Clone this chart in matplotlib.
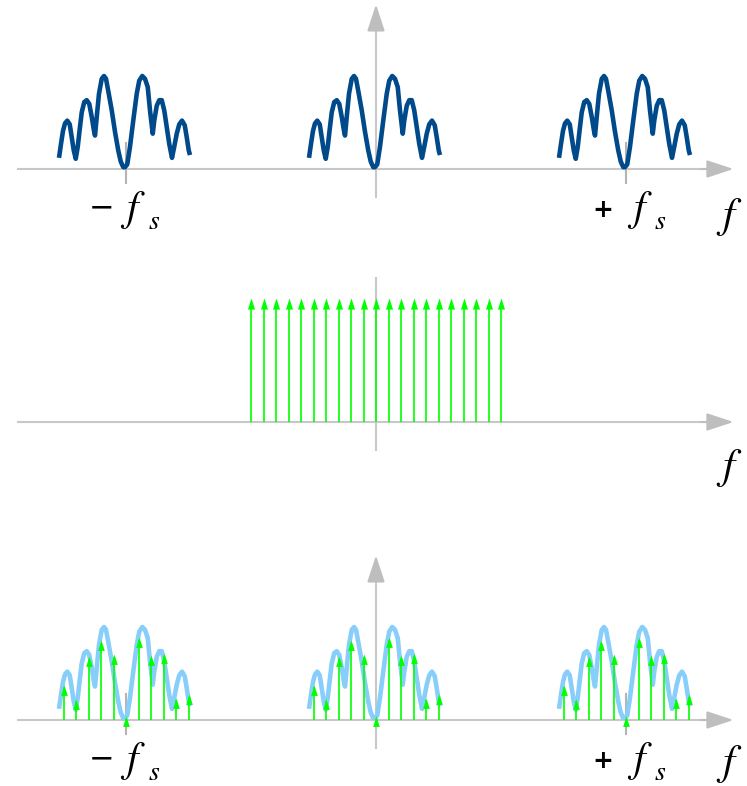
import numpy as np
import matplotlib
matplotlib.use("Agg")
import matplotlib.pyplot as plt

plt.rcParams["mathtext.fontset"] = "stix"

# spectrum shape, offsets in units of the comb spacing (fs/20), heights normalised to the peak
shape_offset = [-5.36, -5.20, -5.04, -4.88, -4.70, -4.50, -4.34, -4.18, -4.02, -3.86,
                -3.70, -3.54, -3.34, -3.14, -2.94, -2.74, -2.56, -2.48, -2.32, -2.16,
                -1.94, -1.76, -1.60, -1.42, -1.14, -0.88, -0.62, -0.42, -0.22, -0.08,
                0.10, 0.32, 0.58, 0.86, 1.06, 1.30, 1.52, 1.74, 1.92, 2.14,
                2.26, 2.46, 2.66, 2.86, 3.06, 3.26, 3.46, 3.68, 3.86, 4.06,
                4.26, 4.48, 4.70, 4.86, 5.02, 5.12]
shape_height = [0.12, 0.27, 0.41, 0.49, 0.52, 0.48, 0.34, 0.20, 0.11, 0.24,
                0.43, 0.61, 0.72, 0.74, 0.70, 0.56, 0.41, 0.36, 0.59, 0.81,
                0.97, 1.00, 0.97, 0.84, 0.63, 0.40, 0.20, 0.08, 0.02, 0.02,
                0.05, 0.24, 0.52, 0.81, 0.95, 1.00, 0.97, 0.88, 0.63, 0.38,
                0.52, 0.68, 0.74, 0.74, 0.63, 0.45, 0.27, 0.12, 0.24, 0.38,
                0.48, 0.52, 0.47, 0.34, 0.20, 0.15]

# copies of the spectrum at -fs, 0, +fs
copy_centers = [-1, 0, 1]

# comb of impulses: k * fs/20
comb_k = list(range(-10, 11))
comb_height = 1.33
spacing = 1 / 20

# sampled values in the bottom panel
sample_k = [-5, -4, -3, -2, -1, 0, 1, 2, 3, 4, 5]
sample_height = [0.38, 0.23, 0.69, 0.86, 0.71, 0.04, 0.89, 0.70, 0.72, 0.24, 0.28]

dark_blue = "#004A8C"
light_blue = "#87CEFA"
green = "#00FF00"
gray = "#C8C8C8"

fig = plt.figure(figsize=(7.47, 7.86), dpi=100)
H = 786
# (top px, bottom px, baseline px) of each band
bands = [(0, 262, 169), (262, 524, 422), (524, 786, 720)]
unit = 93.0
axes = []
for top, bot, base in bands:
    ax = fig.add_axes([0, 1 - bot / H, 1, (bot - top) / H])
    ax.set_xlim(-376 / 250, (747 - 376) / 250)
    ax.set_ylim((base - bot) / unit, (base - top) / unit)
    ax.axis("off")
    axes.append(ax)

head = [(-0.32, -1.0), (0.32, -1.0), (0.0, 0.0)]


def draw_axes(ax, ticks, f_y=-0.52):
    ax.plot([-1.432, 1.35], [0, 0], color=gray, lw=1.5, zorder=1)
    ax.annotate("", xy=(1.43, 0), xytext=(1.3, 0),
                arrowprops=dict(arrowstyle="-|>,head_length=0.82,head_width=0.27",
                                color="#BEBEBE", lw=1.5, mutation_scale=20,
                                shrinkA=0, shrinkB=0), zorder=1)
    ax.plot([0, 0], [-0.30, 1.55], color=gray, lw=1.5, zorder=1)
    ax.annotate("", xy=(0, 1.77), xytext=(0, 1.5),
                arrowprops=dict(arrowstyle="-|>,head_length=0.82,head_width=0.27",
                                color="#BEBEBE", lw=1.5, mutation_scale=20,
                                shrinkA=0, shrinkB=0), zorder=1)
    for t in ticks:
        ax.plot([t, t], [-0.15, 0.28], color="#B4B4B4", lw=1.5, zorder=1)
    ax.text(1.412, f_y, r"$f$", fontsize=31, ha="center", va="center")


def fs_labels(ax):
    ax.text(-1.10, -0.42, "\u2212", fontsize=22, ha="center", va="center")
    ax.text(-0.972, -0.44, r"$f$", fontsize=30, ha="center", va="center")
    ax.text(-0.888, -0.56, r"$s$", fontsize=20, ha="center", va="center")
    ax.text(0.908, -0.44, "+", fontsize=18, fontweight="bold", ha="center", va="center")
    ax.text(1.056, -0.44, r"$f$", fontsize=30, ha="center", va="center")
    ax.text(1.136, -0.56, r"$s$", fontsize=20, ha="center", va="center")


off = np.array(shape_offset) * spacing
hgt = np.array(shape_height)

# top: spectrum copies
ax = axes[0]
draw_axes(ax, [-1, 1])
for c in copy_centers:
    ax.plot(c + off, hgt, color=dark_blue, lw=3.3, zorder=3,
            solid_joinstyle="round", solid_capstyle="butt")
fs_labels(ax)

# middle: impulse comb
ax = axes[1]
draw_axes(ax, [], f_y=-0.50)
xs = np.array(comb_k) * spacing
ax.vlines(xs, 0, comb_height - 0.05, color=green, lw=1.2, zorder=3)
ax.plot(xs, np.full(len(xs), comb_height), ls="none", marker=head,
        markersize=16, color=green, markeredgewidth=0, zorder=4)

# bottom: sampled spectrum
ax = axes[2]
draw_axes(ax, [-1, 1], f_y=-0.47)
for c in copy_centers:
    ax.plot(c + off, hgt, color=light_blue, lw=3.3, zorder=3,
            solid_joinstyle="round", solid_capstyle="butt")
    sx = c + np.array(sample_k) * spacing
    sh = np.array(sample_height)
    ax.vlines(sx, 0, sh - 0.03, color=green, lw=1.2, zorder=4)
    ax.plot(sx, sh, ls="none", marker=head, markersize=15, color=green,
            markeredgewidth=0, zorder=5)
fs_labels(ax)

fig.savefig("out.png", dpi=100)
